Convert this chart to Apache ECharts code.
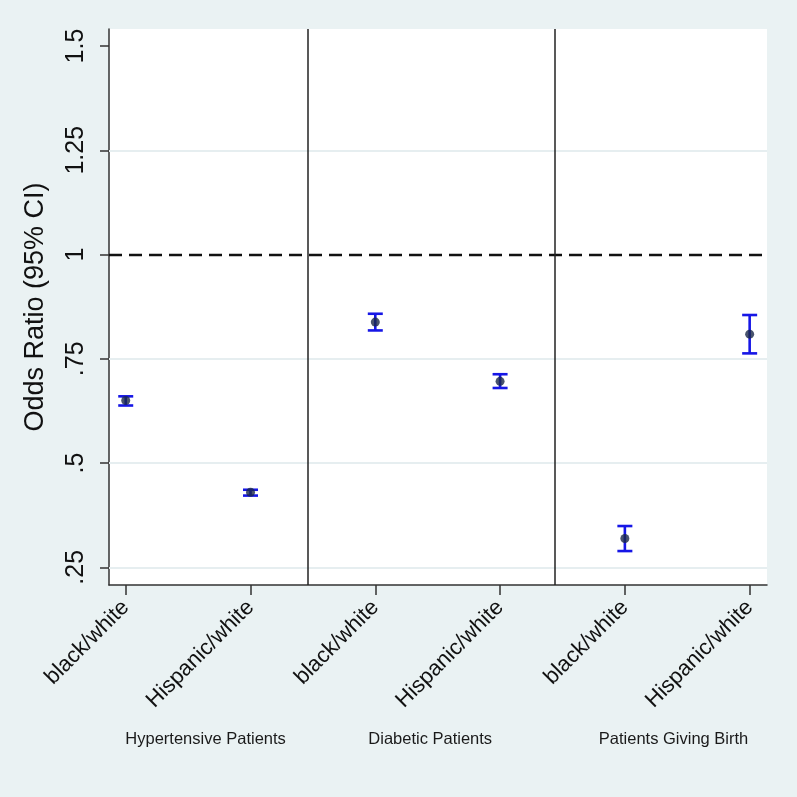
<!DOCTYPE html>
<html>
<head>
<meta charset="utf-8">
<script src="https://cdn.jsdelivr.net/npm/echarts@6/dist/echarts.min.js"></script>
<style>
html,body{margin:0;padding:0;background:#eaf2f3;}
#chart{width:797px;height:797px;}
</style>
</head>
<body>
<div id="chart"></div>
<script>
// ---- data ----
var categories = ['black/white', 'Hispanic/white', 'black/white', 'Hispanic/white', 'black/white', 'Hispanic/white'];
var groups = ['Hypertensive Patients', 'Diabetic Patients', 'Patients Giving Birth'];
var oddsRatio = [0.650, 0.430, 0.838, 0.696, 0.319, 0.809];
var ciLow     = [0.638, 0.422, 0.818, 0.680, 0.289, 0.763];
var ciHigh    = [0.660, 0.436, 0.858, 0.713, 0.349, 0.855];
var yTicks = [0.25, 0.5, 0.75, 1, 1.25, 1.5];
var yTickLabels = ['.25', '.5', '.75', '1', '1.25', '1.5'];
var gridValues = [0.25, 0.5, 0.75, 1.25];
var referenceValue = 1;
var groupBoundaries = [2.46, 4.44];

// ---- build ----
var xPos = categories.map(function (c, i) { return i + 1; });
var groupCenters = [1.64, 3.44, 5.39];
var font = "'Liberation Sans', Arial, sans-serif";
var barData = xPos.map(function (x, i) { return [x, ciLow[i], ciHigh[i]]; });
var pointData = xPos.map(function (x, i) { return [x, oddsRatio[i]]; });

var chart = echarts.init(document.getElementById('chart'));
chart.setOption({
  backgroundColor: '#eaf2f3',
  animation: false,
  grid: {
    left: 109, top: 29, right: 30, bottom: 212,
    show: true, backgroundColor: '#ffffff', borderWidth: 0
  },
  xAxis: [{
    type: 'value', min: 0.866, max: 6.139,
    axisLine: { show: true, onZero: false, lineStyle: { color: '#333', width: 1.5 } },
    axisTick: { show: true, length: 10, lineStyle: { color: '#333', width: 1.5 }, customValues: xPos },
    splitLine: { show: false },
    axisLabel: {
      customValues: xPos, rotate: 45, margin: 19,
      fontFamily: font, fontSize: 22, color: '#111',
      formatter: function (v) { return categories[Math.round(v) - 1]; }
    }
  }, {
    type: 'value', min: 0.866, max: 6.139, position: 'bottom',
    axisLine: { show: false }, axisTick: { show: false }, splitLine: { show: false },
    axisLabel: {
      customValues: groupCenters, margin: 146,
      fontFamily: font, fontSize: 16.5, color: '#1a1a1a',
      formatter: function (v) {
        var k = groupCenters.indexOf(v);
        return k >= 0 ? groups[k] : '';
      }
    }
  }],
  yAxis: {
    type: 'value', min: 0.2076, max: 1.5408,
    name: 'Odds Ratio (95% CI)', nameLocation: 'middle', nameRotate: 90, nameGap: 60,
    nameTextStyle: { fontFamily: font, fontSize: 27, color: '#111' },
    axisLine: { show: true, lineStyle: { color: '#333', width: 1.5 } },
    axisTick: { show: true, length: 9, lineStyle: { color: '#333', width: 1.5 }, customValues: yTicks },
    splitLine: { show: false },
    axisLabel: {
      customValues: yTicks, rotate: 90, margin: 20,
      fontFamily: font, fontSize: 25, color: '#111',
      formatter: function (v) {
        var k = yTicks.indexOf(v);
        return k >= 0 ? yTickLabels[k] : '';
      }
    }
  },
  series: [{
    type: 'custom',
    z: 2,
    data: barData,
    renderItem: function (params, api) {
      var x = api.value(0);
      var lo = api.coord([x, api.value(1)]);
      var hi = api.coord([x, api.value(2)]);
      var hw = 7.5;
      var st = { stroke: '#1616e6', lineWidth: 2.6 };
      return {
        type: 'group',
        children: [
          { type: 'line', shape: { x1: lo[0], y1: lo[1], x2: hi[0], y2: hi[1] }, style: st },
          { type: 'line', shape: { x1: lo[0] - hw, y1: lo[1], x2: lo[0] + hw, y2: lo[1] }, style: st },
          { type: 'line', shape: { x1: hi[0] - hw, y1: hi[1], x2: hi[0] + hw, y2: hi[1] }, style: st }
        ]
      };
    },
    markLine: {
      silent: true, symbol: 'none', label: { show: false },
      lineStyle: { color: '#e6eef0', width: 2, type: 'solid' },
      data: gridValues.map(function (v) { return { yAxis: v }; })
    }
  }, {
    type: 'scatter',
    z: 5,
    data: pointData,
    symbol: 'circle',
    symbolSize: 9,
    itemStyle: { color: '#1a2848' },
    markLine: {
      silent: true, symbol: 'none', label: { show: false },
      data: [
        { yAxis: referenceValue, lineStyle: { color: '#111', width: 2.4, type: [13, 7] } }
      ].concat(groupBoundaries.map(function (b) {
        return { xAxis: b, lineStyle: { color: '#222', width: 1.5, type: 'solid' } };
      }))
    }
  }]
});
</script>
</body>
</html>
